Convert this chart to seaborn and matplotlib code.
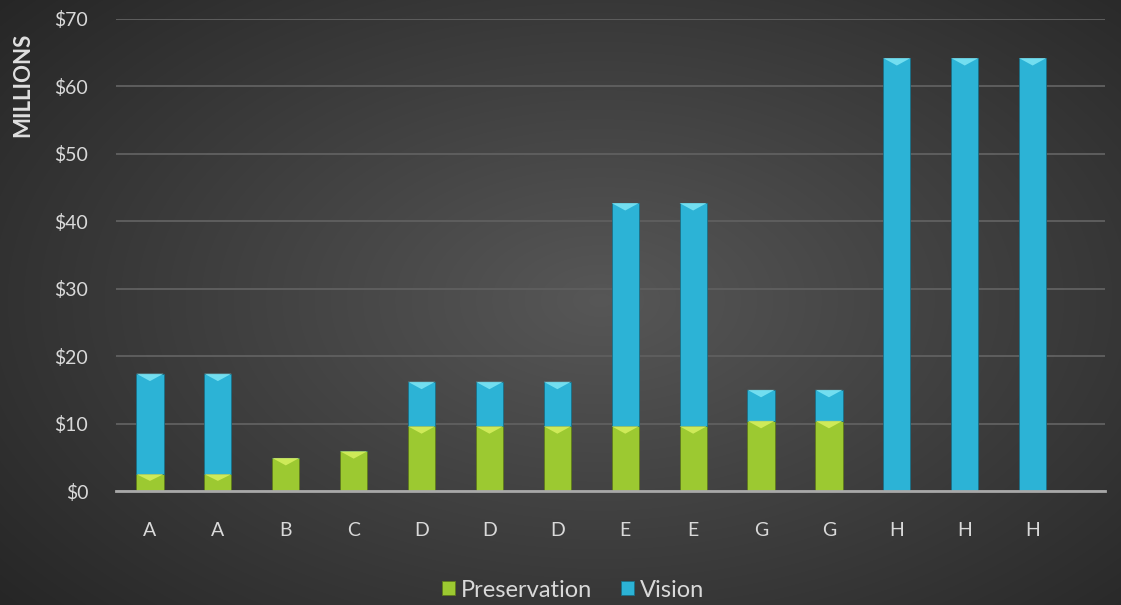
import numpy as np
import pandas as pd
import matplotlib
matplotlib.use("Agg")
import matplotlib.pyplot as plt
from matplotlib.patches import Polygon
import seaborn as sns

labels = ["A", "A", "B", "C", "D", "D", "D", "E", "E", "G", "G", "H", "H", "H"]
preservation = [2.5, 2.5, 4.9, 5.9, 9.6, 9.6, 9.6, 9.6, 9.6, 10.4, 10.4, 0, 0, 0]
vision = [14.9, 14.9, 0, 0, 6.6, 6.6, 6.6, 33.1, 33.1, 4.6, 4.6, 64.2, 64.2, 64.2]
yticks = [0, 10, 20, 30, 40, 50, 60, 70]

sns.set_theme(style="dark")
plt.rcParams['font.family'] = ['Lato', 'DejaVu Sans']

pos = [str(i) for i in range(len(labels))]
df = pd.DataFrame({"pos": pos, "Preservation": preservation, "Vision": vision})

fig = plt.figure(figsize=(11.21, 6.05), dpi=100)
# radial gradient background
bg = fig.add_axes([0, 0, 1, 1], zorder=-10)
yy, xx = np.mgrid[0:605, 0:1121]
cx, cy = 600, 300
r = np.sqrt(((xx - cx) / 700.0) ** 2 + ((yy - cy) / 420.0) ** 2)
v = np.clip(0.34 - 0.17 * r, 0.15, 0.34)
bg.imshow(np.dstack([v, v, v]), aspect="auto", extent=[0, 1, 0, 1])
bg.axis("off")

ax = fig.add_axes([0.1035, 0.1884, 0.8825, 0.7802])
ax.set_facecolor("none")

green = "#9cc931"
blue = "#2cb3d6"
sns.barplot(data=df, x="pos", y="Preservation", order=pos, color=green,
            width=0.4, ax=ax, label="Preservation", saturation=1,
            edgecolor="#5f7a1c", linewidth=0.6)
sns.barplot(data=df, x="pos", y="Vision", order=pos, bottom=df["Preservation"],
            color=blue, width=0.4, ax=ax, label="Vision", saturation=1,
            edgecolor="#1a6f86", linewidth=0.6)

# bevel highlight at top of each segment
hl = {0: "#d8f060", 1: "#7fe6f5"}
for ci, cont in enumerate(ax.containers):
    for p in cont.patches:
        h = p.get_height()
        if h <= 0:
            continue
        x0 = p.get_x(); w = p.get_width(); top = p.get_y() + h
        d = min(1.1, h * 0.4)
        tri = Polygon([[x0, top], [x0 + w, top], [x0 + w * 0.5, top - d]],
                      closed=True, facecolor=hl[ci], edgecolor="none", alpha=0.85, zorder=3)
        ax.add_patch(tri)

ax.set_xlim(-0.5, 14.07)
ax.set_ylim(0, 70)
ax.set_yticks(yticks)
ax.set_yticklabels([f"${t}" for t in yticks])
ax.set_xticks(range(len(labels)))
ax.set_xticklabels(labels)
ax.tick_params(axis="y", colors="#d9d9d9", labelsize=14, pad=20, length=0)
ax.tick_params(axis="x", colors="#d9d9d9", labelsize=14, pad=22, length=0)
ax.yaxis.grid(True, color="#5e5e5e", linewidth=1.4)
ax.xaxis.grid(False)
ax.set_axisbelow(True)
for s in ["top", "right", "left"]:
    ax.spines[s].set_visible(False)
ax.spines["bottom"].set_color("#a8a8a8")
ax.spines["bottom"].set_linewidth(2)
ax.set_xlabel("")
ax.set_ylabel("MILLIONS", color="#e0e0e0", fontsize=16, fontweight="bold")
ax.yaxis.set_label_coords(-0.084, 0.86)

leg = ax.legend(loc="center", bbox_to_anchor=(0.462, -0.21), ncol=2,
                frameon=False, fontsize=17, handlelength=0.55, handleheight=0.55,
                handletextpad=0.25, columnspacing=1.2, borderpad=0.1)
for t in leg.get_texts():
    t.set_color("#d9d9d9")

fig.savefig("out.png", dpi=100)
